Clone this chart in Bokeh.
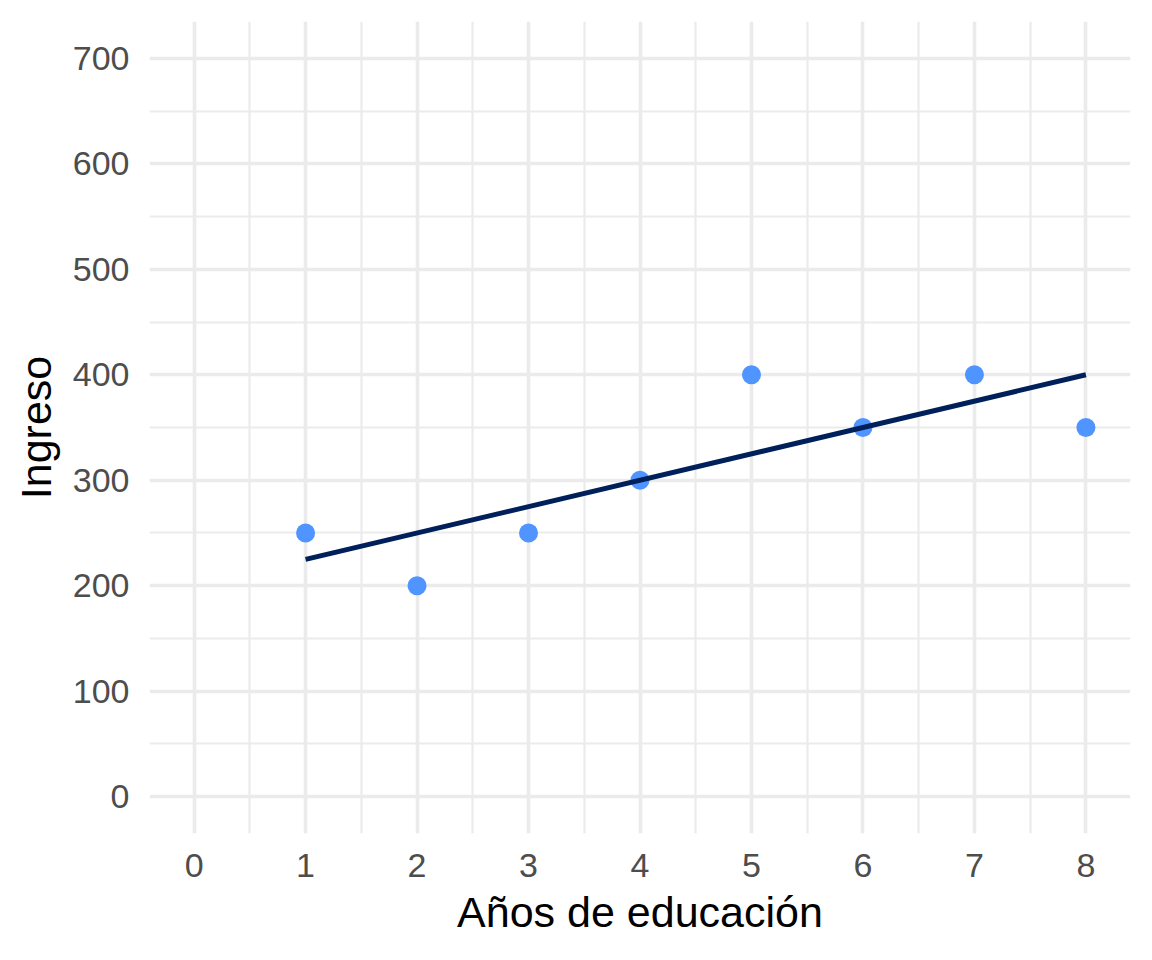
from bokeh.plotting import figure
from bokeh.models import FixedTicker, Range1d
from bokeh.embed import file_html
from bokeh.resources import INLINE

# Data
anios = [1, 2, 3, 4, 5, 6, 7, 8]
ingreso = [250, 200, 250, 300, 400, 350, 400, 350]
linea_x = [1, 8]
linea_y = [225, 400]

x_ticks = [0, 1, 2, 3, 4, 5, 6, 7, 8]
x_minor = [0.5, 1.5, 2.5, 3.5, 4.5, 5.5, 6.5, 7.5]
y_ticks = [0, 100, 200, 300, 400, 500, 600, 700]
y_minor = [50, 150, 250, 350, 450, 550, 650]

p = figure(width=1144, height=952, output_backend="svg", toolbar_location=None,
           x_range=Range1d(-0.4, 8.4), y_range=Range1d(-35, 735),
           min_border_left=149, min_border_right=14, min_border_top=21,
           min_border_bottom=119)
p.outline_line_color = None
p.background_fill_color = "white"
p.border_fill_color = "white"

p.xaxis.ticker = FixedTicker(ticks=x_ticks, minor_ticks=x_minor)
p.yaxis.ticker = FixedTicker(ticks=y_ticks, minor_ticks=y_minor)

for g in (p.xgrid, p.ygrid):
    g.grid_line_color = "#EBEBEB"
    g.grid_line_width = 3.6
    g.minor_grid_line_color = "#EBEBEB"
    g.minor_grid_line_width = 2.2

for ax in (p.xaxis, p.yaxis):
    ax.axis_line_color = None
    ax.major_tick_line_color = None
    ax.minor_tick_line_color = None
    ax.major_tick_out = 0
    ax.major_tick_in = 0
    ax.minor_tick_out = 0
    ax.minor_tick_in = 0
    ax.major_label_text_font = "Liberation Sans"
    ax.major_label_text_font_size = "34px"
    ax.major_label_text_color = "#4D4D4D"
    ax.axis_label_text_font = "Liberation Sans"
    ax.axis_label_text_font_size = "43px"
    ax.axis_label_text_font_style = "normal"
    ax.axis_label_text_color = "black"

p.xaxis.axis_label = "Años de educación"
p.yaxis.axis_label = "Ingreso"
p.xaxis.major_label_standoff = 20
p.yaxis.major_label_standoff = 20
p.xaxis.axis_label_standoff = 8
p.yaxis.axis_label_standoff = 10

p.scatter(anios, ingreso, size=19, color="#4F94FF", line_color=None)
p.line(linea_x, linea_y, line_width=5, line_color="#00205B")

open("out.html", "w").write(file_html(p, INLINE))
